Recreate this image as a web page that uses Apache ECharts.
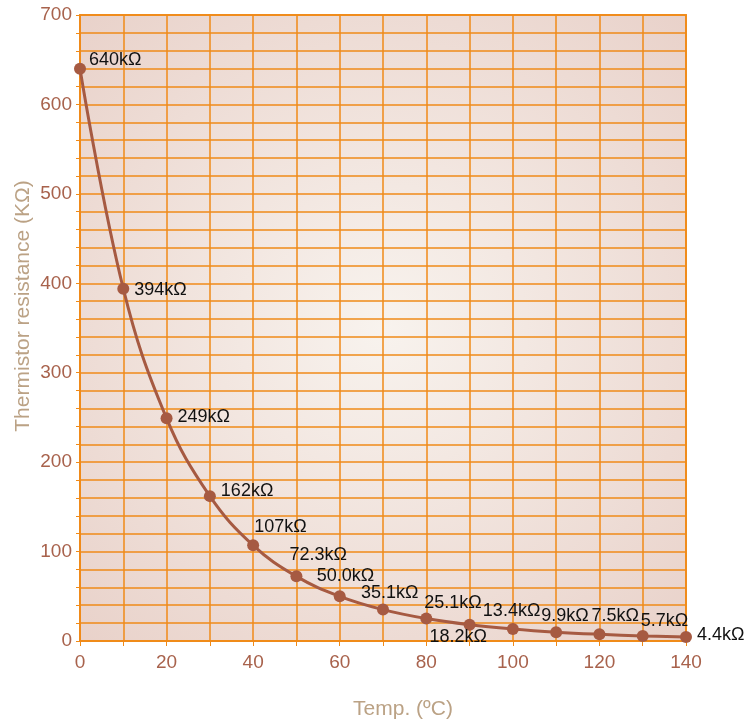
<!DOCTYPE html>
<html><head><meta charset="utf-8">
<script src="https://cdn.jsdelivr.net/npm/echarts@6/dist/echarts.min.js"></script>
<style>html,body{margin:0;padding:0;background:#fff}#c{width:745px;height:725px}</style>
</head><body><div id="c"></div>
<script>
var temps = [0,10,20,30,40,50,60,70,80,90,100,110,120,130,140];
var resistance = [640,394,249,162,107,72.3,50.0,35.1,25.1,18.2,13.4,9.9,7.5,5.7,4.4];
var labels = ['640kΩ','394kΩ','249kΩ','162kΩ','107kΩ','72.3kΩ','50.0kΩ','35.1kΩ','25.1kΩ','18.2kΩ','13.4kΩ','9.9kΩ','7.5kΩ','5.7kΩ','4.4kΩ'];
var xTicks = [0,20,40,60,80,100,120,140];
var yTicks = [0,100,200,300,400,500,600,700];

// label placement (style only)
var labelOffsets = [[-2,-9],[0,1],[0,-1],[0,-5],[-10,-18],[-18,-21],[-34,-20],[-33,-17],[-13,-16],[-51,12],[-41,-18],[-26,-16],[-19,-18],[-13,-15],[0,-2]];

var data = temps.map(function(t,i){
  return {value:[t,resistance[i]], label:{formatter:labels[i], offset:labelOffsets[i]}};
});

var chart = echarts.init(document.getElementById('c'));
var orange = '#f08a18';
var font = 'Liberation Sans, Arial, sans-serif';
var titleColor = '#bba285';
chart.setOption({
  animation:false,
  grid:{left:80,right:59,top:15,bottom:84,outerBoundsMode:'none',containLabel:false,show:true,borderColor:'#f0922a',borderWidth:2,
    backgroundColor:{type:'radial',x:0.5,y:0.5,r:0.75,colorStops:[{offset:0,color:'#f8f3ee'},{offset:1,color:'#e8d0c8'}]}},
  xAxis:{type:'value',min:0,max:140,interval:20,
    name:'Temp. (ºC)',nameLocation:'middle',nameGap:58,nameMoveOverlap:false,
    nameTextStyle:{color:titleColor,fontSize:21,fontFamily:font,padding:[0,0,0,40]},
    axisLine:{show:true,lineStyle:{color:orange,width:1.5}},
    axisTick:{show:true,length:5,lineStyle:{color:orange}},
    axisLabel:{color:'#a8624c',fontSize:19,margin:12,fontFamily:font,
      formatter:function(v){return xTicks.indexOf(v)>=0?String(v):'';}},
    splitLine:{show:true,lineStyle:{color:orange,width:1.5}},
    minorTick:{show:true,splitNumber:2,length:5,lineStyle:{color:orange}},
    minorSplitLine:{show:true,lineStyle:{color:orange,width:1.5}}
  },
  yAxis:{type:'value',min:0,max:700,interval:100,
    name:'Thermistor resistance (KΩ)',nameLocation:'middle',nameGap:46,nameMoveOverlap:false,
    nameTextStyle:{color:titleColor,fontSize:21,fontFamily:font,padding:[0,0,0,44]},
    axisLine:{show:true,lineStyle:{color:orange,width:1.5}},
    axisTick:{show:true,length:4,lineStyle:{color:orange}},
    axisLabel:{color:'#a8624c',fontSize:19,margin:8,fontFamily:font,
      formatter:function(v){return yTicks.indexOf(v)>=0?String(v):'';}},
    splitLine:{show:true,lineStyle:{color:orange,width:1.5}},
    minorTick:{show:true,splitNumber:5,length:4,lineStyle:{color:orange}},
    minorSplitLine:{show:true,lineStyle:{color:orange,width:1.5}}
  },
  series:[{
    type:'line',data:data,smooth:0.4,
    symbol:'circle',symbolSize:12,
    lineStyle:{color:'#a65a42',width:3},
    itemStyle:{color:'#a65a42'},
    label:{show:true,position:'right',distance:5,color:'#111',fontSize:18,fontFamily:font}
  }]
});
</script></body></html>
